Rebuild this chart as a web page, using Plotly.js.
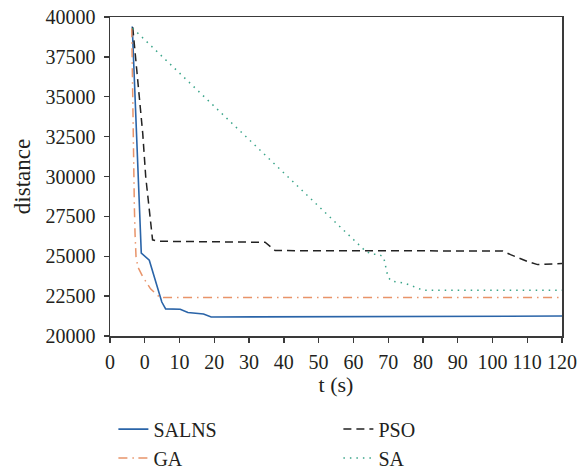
<!DOCTYPE html>
<html>
<head>
<meta charset="utf-8">
<script src="https://cdn.plot.ly/plotly-3.0.1.min.js"></script>
<style>html,body{margin:0;padding:0;background:#fff;}#chart{width:586px;height:470px;}</style>
</head>
<body>
<div id="chart"></div>
<script>
// Series data
const salnsT = [-3.6, -1.0, 1.3, 4.9, 6.0, 10.2, 12.4, 16.9, 19.1, 120];
const salnsV = [39400, 25200, 24750, 22130, 21700, 21680, 21470, 21380, 21190, 21250];

const gaT = [-3.75, -3.29, -3.0, -2.8, -2.51, -1.94, -0.5, 1.66, 4.2, 5.3, 120];
const gaV = [39300, 29760, 28190, 26440, 24950, 24310, 23680, 22960, 22450, 22410, 22410];

const psoT = [-3.46, -2.31, -1.36, -0.58, 0.28, 0.94, 1.95, 2.24, 3.9, 34.6, 37.5, 103.0, 105.2, 110.0, 113.0, 117.9, 120];
const psoV = [39350, 36870, 34780, 32690, 29970, 28510, 26630, 26030, 25940, 25875, 25354, 25330, 25100, 24680, 24475, 24540, 24540];

const saT = [-3.5, 63.6, 65.4, 67.3, 68.7, 69.5, 69.9, 70.8, 72.7, 74.5, 76.4, 78.1, 80.0, 120];
const saV = [39300, 25300, 25130, 25120, 24950, 24140, 23740, 23450, 23390, 23320, 23180, 23030, 22870, 22870];

const xTickVals = [-10, 0, 10, 20, 30, 40, 50, 60, 70, 80, 90, 100, 110, 120];
const xTickText = ['0', '0', '10', '20', '30', '40', '50', '60', '70', '80', '90', '100', '110', '120'];
const yTickVals = [20000, 22500, 25000, 27500, 30000, 32500, 35000, 37500, 40000];

const FONT = '"Liberation Serif", "DejaVu Serif", serif';
const TXT = '#231f20';

const traces = [
  {x: salnsT, y: salnsV, name: 'SALNS', mode: 'lines', legendrank: 1,
   line: {color: '#2a64a8', width: 1.6, dash: 'solid'}},
  {x: psoT, y: psoV, name: 'PSO', mode: 'lines', legendrank: 2,
   line: {color: '#222222', width: 1.5, dash: '8px,5px'}},
  {x: gaT, y: gaV, name: 'GA', mode: 'lines', legendrank: 3,
   line: {color: '#e8946a', width: 1.5, dash: '9px,5px,1.5px,4.5px'}},
  {x: saT, y: saV, name: 'SA', mode: 'lines', legendrank: 4,
   line: {color: '#3ba58a', width: 1.5, dash: '1.5px,5px'}}
];

const axisCommon = {
  showline: true, mirror: true, linecolor: '#3a3a3a', linewidth: 1.5,
  ticks: 'outside', ticklen: 5, tickwidth: 1.3, tickcolor: '#3a3a3a',
  showgrid: false, zeroline: false,
  tickfont: {family: FONT, size: 20, color: TXT}
};

const layout = {
  width: 586, height: 470,
  margin: {l: 110, r: 24, t: 17, b: 134, autoexpand: false},
  paper_bgcolor: '#ffffff', plot_bgcolor: '#ffffff',
  font: {family: FONT, color: TXT},
  showlegend: true,
  xaxis: Object.assign({}, axisCommon, {
    range: [-10, 120], tickmode: 'array', tickvals: xTickVals, ticktext: xTickText,
    ticklabelstandoff: 2, automargin: false,
    title: {text: 't (s)', font: {family: FONT, size: 22, color: TXT}, standoff: 2}
  }),
  yaxis: Object.assign({}, axisCommon, {
    range: [20000, 40000], tickmode: 'array', tickvals: yTickVals,
    ticktext: yTickVals.map(String), ticklabelstandoff: 4, automargin: false,
    title: {text: 'distance', font: {family: FONT, size: 23, color: TXT}, standoff: 8}
  }),
  legend: {
    orientation: 'h', xref: 'container', yref: 'container',
    x: 0.1935, xanchor: 'left', y: 0.1285, yanchor: 'top',
    entrywidth: 180, entrywidthmode: 'pixels',
    font: {family: FONT, size: 20, color: TXT},
    bgcolor: 'rgba(0,0,0,0)', tracegroupgap: 0
  }
};

Plotly.newPlot('chart', traces, layout, {displayModeBar: false, staticPlot: true});
</script>
</body>
</html>
